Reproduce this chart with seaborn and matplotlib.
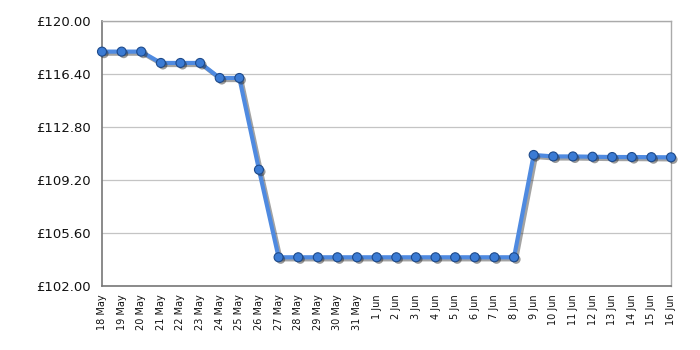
import matplotlib
matplotlib.use("Agg")
import matplotlib.pyplot as plt
import matplotlib.patheffects as pe
import seaborn as sns
import pandas as pd
import numpy as np

dates = ["18 May", "19 May", "20 May", "21 May", "22 May", "23 May", "24 May", "25 May",
         "26 May", "27 May", "28 May", "29 May", "30 May", "31 May",
         "1 Jun", "2 Jun", "3 Jun", "4 Jun", "5 Jun", "6 Jun", "7 Jun", "8 Jun",
         "9 Jun", "10 Jun", "11 Jun", "12 Jun", "13 Jun", "14 Jun", "15 Jun", "16 Jun"]
prices = [117.92, 117.92, 117.92, 117.15, 117.15, 117.15, 116.13, 116.13,
          109.90, 103.95, 103.95, 103.95, 103.95, 103.95,
          103.95, 103.95, 103.95, 103.95, 103.95, 103.95, 103.95, 103.95,
          110.90, 110.80, 110.80, 110.78, 110.76, 110.76, 110.75, 110.74]
y_ticks = [102.00, 105.60, 109.20, 112.80, 116.40, 120.00]

df = pd.DataFrame({"idx": np.arange(len(dates)), "price": prices})

sns.set_style("white")
plt.rcParams["font.family"] = ["DejaVu Sans"]

fig = plt.figure(figsize=(7, 3.5), dpi=100)
ax = fig.add_axes([0.1457, 0.1829, 0.8129, 0.7571])

sns.lineplot(data=df, x="idx", y="price", ax=ax, color="#4f8ae0", linewidth=3, zorder=4)
ax.lines[0].set_path_effects([pe.SimpleLineShadow(offset=(1.5, -1.5), shadow_color="#333333", alpha=0.45),
                              pe.Normal()])
ax.lines[0].set_clip_on(False)
sc = sns.scatterplot(data=df, x="idx", y="price", ax=ax, color="#3b7bd4", s=42,
                     edgecolor="#1e4a8a", linewidth=0.8, zorder=5, clip_on=False)
coll = ax.collections[-1]
coll.set_path_effects([pe.SimplePatchShadow(offset=(1.5, -1.5), shadow_rgbFace="#222222", alpha=0.45),
                       pe.Normal()])

ax.set_xlim(0, len(dates) - 1)
ax.set_ylim(102, 120)
ax.set_yticks(y_ticks)
ax.set_yticklabels([f"£{v:.2f}" for v in y_ticks], fontsize=9.5, color="#111111")
ax.set_xticks(np.arange(len(dates)))
ax.set_xticklabels(dates, rotation=90, fontsize=7, color="#111111")
ax.set_xticks(np.arange(0, len(dates), 3), minor=True)
ax.tick_params(axis="x", which="major", length=0, pad=6)
ax.tick_params(axis="x", which="minor", length=5, color="#555555", direction="out")
ax.tick_params(axis="y", which="major", length=5, color="#555555", direction="out", pad=3)
ax.grid(False)
ax.grid(True, axis="x", which="minor", color="#c4c4c4", linewidth=0.9)
ax.grid(True, axis="y", which="major", color="#c4c4c4", linewidth=0.9)
ax.set_axisbelow(True)
for s in ["left", "bottom"]:
    ax.spines[s].set_color("#777777")
    ax.spines[s].set_linewidth(1.2)
for s in ["top", "right"]:
    ax.spines[s].set_color("#aaaaaa")
    ax.spines[s].set_linewidth(1.0)
ax.set_xlabel("")
ax.set_ylabel("")

fig.savefig("out.png", dpi=100)
